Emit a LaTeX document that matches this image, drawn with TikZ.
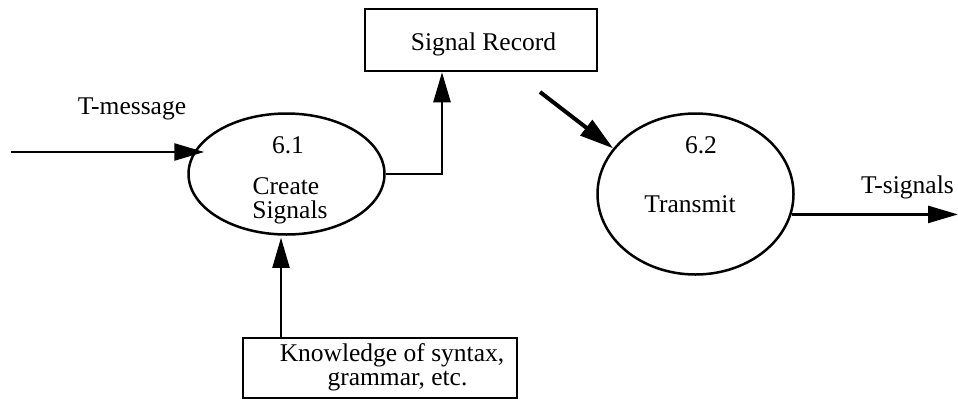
\documentclass[tikz,border=0pt]{standalone}
\usepackage{fontspec}
\setmainfont{Liberation Serif}
\newfontfamily\dfdfont{Liberation Serif}
\usetikzlibrary{shapes.geometric,arrows.meta}
\begin{document}
\begin{tikzpicture}[x=1pt,y=-1pt,
  every node/.style={font=\dfdfont\fontsize{25.5}{22}\selectfont},
  proc/.style={draw, ellipse, line width=2.5pt, inner sep=0pt},
  store/.style={draw, rectangle, line width=2.5pt, inner sep=0pt},
  flow/.style={line width=2.5pt, -{Triangle[length=30pt,width=17pt]}},
  lbl/.style={anchor=base, inner sep=0pt}]
\useasboundingbox (0,0) rectangle (958,400);

% process 6.1
\node[proc, minimum width=196pt, minimum height=121pt] (c61) at (286.5,174) {};
\node[lbl] (n61) at (288,153) {6.1};
\node[lbl] (t61a) at (286,194) {Create};
\node[lbl] (t61b) at (290,218) {Signals};

% process 6.2
\node[proc, minimum width=196pt, minimum height=161pt] (c62) at (695.5,194) {};
\node[lbl] (n62) at (701,153) {6.2};
\node[lbl] (t62) at (690,212) {Transmit};

% data stores
\node[store, minimum width=232pt, minimum height=62pt] (rec) at (481,40) {};
\node[lbl] (trec) at (483.5,50) {Signal Record};

\node[store, line width=2pt, minimum width=274pt, minimum height=60pt] (know) at (380,368) {};
\node[lbl] (tk1) at (392,361) {Knowledge of syntax,};
\node[lbl] (tk2) at (397.5,385) {grammar, etc.};

% flow labels
\node[lbl] (tmsg) at (132,114) {T-message};
\node[lbl] (tsig) at (907.5,193) {T-signals};

% free ends of flows
\coordinate (src) at (11,152);
\coordinate (sink) at (958,213);
\coordinate (recout) at (540,92);

% flows
\draw[flow] (src) -- ([xshift=17pt]src -| c61.west);
\draw[flow] (c61.east) -| ([xshift=-39pt]rec.south);
\draw[flow, line width=4pt, -{Triangle[length=34pt,width=19pt]}] (recout) -- (c62.151);
\draw[flow] (c62.-12) -- (c62.-12 -| sink);
\draw[flow, line width=2pt, shorten >=2pt] ([xshift=-99pt]know.north) -- ([xshift=-99pt]know.north |- c61.south);
\end{tikzpicture}
\end{document}
